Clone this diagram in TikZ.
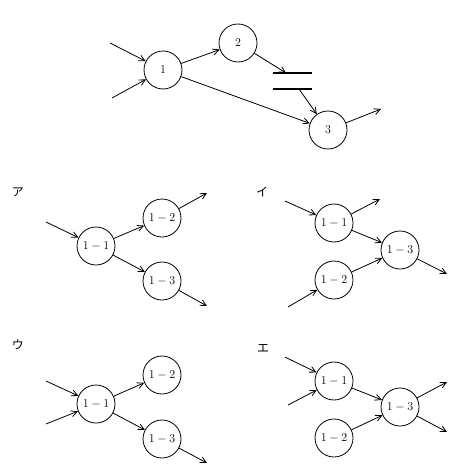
\documentclass[tikz,border=0pt]{standalone}
\usepackage{fontspec}
\newfontfamily\jpfont{Noto Sans CJK JP}
\usetikzlibrary{arrows.meta}
\tikzset{
  job/.style={draw, circle, minimum size=38pt, inner sep=0pt, line width=0.8pt, font=\fontsize{13}{15}\selectfont},
  flow/.style={-{Straight Barb[length=6pt, width=6pt]}, line width=0.8pt},
  bar/.style={line width=1.4pt},
  tag/.style={font=\jpfont\fontsize{12}{14}\selectfont}
}

\begin{document}
\begin{tikzpicture}[x=1pt,y=-1pt]
  \useasboundingbox (0,0) rectangle (455,471);

  % top network
  \node[job] (n1) at (163,70) {$1$};
  \node[job] (n2) at (238,43) {$2$};
  \node[job] (n3) at (328,130) {$3$};
  \coordinate (in1) at (110,43);
  \coordinate (in2) at (112,98);
  \coordinate (out3) at (381,109);
  \coordinate (barA) at (286,73);
  \coordinate (barB) at (299,89);
  \draw[bar] (273,73) -- (312,73);
  \draw[bar] (273,89) -- (312,89);
  \draw[flow] (in1) -- (n1);
  \draw[flow] (in2) -- (n1);
  \draw[flow] (n1) -- (n2);
  \draw[flow] (n2) -- (barA);
  \draw[flow] (barB) -- (n3);
  \draw[flow] (n1) -- (n3);
  \draw[flow] (n3) -- (out3);

  % choice a
  \node[tag] (la) at (18,192) {ア};
  \node[job] (a11) at (96,246) {$1-1$};
  \node[job] (a12) at (162,218) {$1-2$};
  \node[job] (a13) at (162,281) {$1-3$};
  \coordinate (ain) at (46,222);
  \coordinate (aout2) at (207,193);
  \coordinate (aout3) at (207,306);
  \draw[flow] (ain) -- (a11);
  \draw[flow] (a11) -- (a12);
  \draw[flow] (a11) -- (a13);
  \draw[flow] (a12) -- (aout2);
  \draw[flow] (a13) -- (aout3);

  % choice i
  \node[tag] (li) at (262,192) {イ};
  \node[job] (i11) at (334,223) {$1-1$};
  \node[job] (i12) at (334,280) {$1-2$};
  \node[job] (i13) at (400,250) {$1-3$};
  \coordinate (iin1) at (285,201);
  \coordinate (iin2) at (288,307);
  \coordinate (iout1) at (380,199);
  \coordinate (iout3) at (447,274);
  \draw[flow] (iin1) -- (i11);
  \draw[flow] (iin2) -- (i12);
  \draw[flow] (i11) -- (iout1);
  \draw[flow] (i11) -- (i13);
  \draw[flow] (i12) -- (i13);
  \draw[flow] (i13) -- (iout3);

  % choice u
  \node[tag] (lu) at (18,345) {ウ};
  \node[job] (u11) at (96,404) {$1-1$};
  \node[job] (u12) at (162,375) {$1-2$};
  \node[job] (u13) at (162,439) {$1-3$};
  \coordinate (uin1) at (46,381);
  \coordinate (uin2) at (46,424);
  \coordinate (uout3) at (207,463);
  \draw[flow] (uin1) -- (u11);
  \draw[flow] (uin2) -- (u11);
  \draw[flow] (u11) -- (u12);
  \draw[flow] (u11) -- (u13);
  \draw[flow] (u13) -- (uout3);

  % choice e
  \node[tag] (le) at (263,348) {エ};
  \node[job] (e11) at (334,381) {$1-1$};
  \node[job] (e12) at (334,438) {$1-2$};
  \node[job] (e13) at (400,407) {$1-3$};
  \coordinate (ein1) at (285,357);
  \coordinate (ein2) at (288,405);
  \coordinate (eout1) at (447,382);
  \coordinate (eout2) at (447,432);
  \draw[flow] (ein1) -- (e11);
  \draw[flow] (ein2) -- (e11);
  \draw[flow] (e11) -- (e13);
  \draw[flow] (e12) -- (e13);
  \draw[flow] (e13) -- (eout1);
  \draw[flow] (e13) -- (eout2);
\end{tikzpicture}
\end{document}
